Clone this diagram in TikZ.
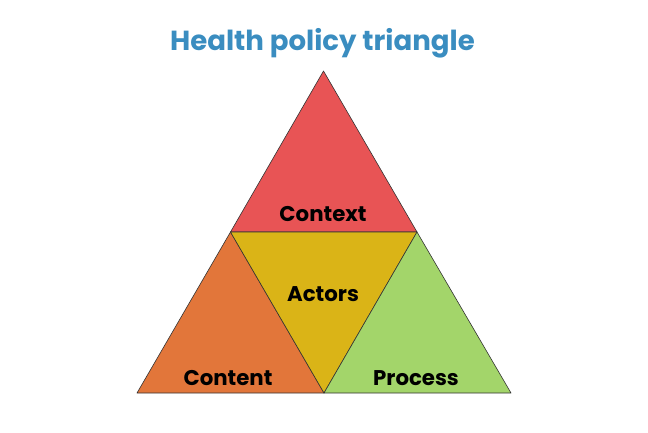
\documentclass[tikz,border=0pt]{standalone}
\usepackage{fontspec}
\setmainfont{Poppins}
\definecolor{titleblue}{HTML}{3A8DC0}
\definecolor{ctxred}{HTML}{E85455}
\definecolor{cntorange}{HTML}{E2763A}
\definecolor{actyellow}{HTML}{DAB417}
\definecolor{prcgreen}{HTML}{A3D56A}
\begin{document}
\begin{tikzpicture}[x=1pt,y=-1pt,part/.style={draw=black!80,line width=0.6pt,line join=round},partlabel/.style={font=\fontsize{21.3}{24}\selectfont\bfseries,text=black}]
\useasboundingbox (0,0) rectangle (648,432);
\coordinate (top) at (323.5,71);
\coordinate (ml) at (230.5,232);
\coordinate (mr) at (417,232);
\coordinate (bl) at (137,393);
\coordinate (bm) at (324,393);
\coordinate (br) at (511,393);
\fill[ctxred,part] (top) -- (mr) -- (ml) -- cycle;
\fill[cntorange,part] (ml) -- (bm) -- (bl) -- cycle;
\fill[actyellow,part] (ml) -- (mr) -- (bm) -- cycle;
\fill[prcgreen,part] (mr) -- (br) -- (bm) -- cycle;
\node[font=\fontsize{27.6}{32}\selectfont\bfseries,text=titleblue] (title) at (322.5,43) {Health policy triangle};
\node[partlabel] (context) at (323,214) {Context};
\node[partlabel] (actors) at (323,294) {Actors};
\node[partlabel] (content) at (228,378) {Content};
\node[partlabel] (process) at (416,378) {Process};
\end{tikzpicture}
\end{document}
